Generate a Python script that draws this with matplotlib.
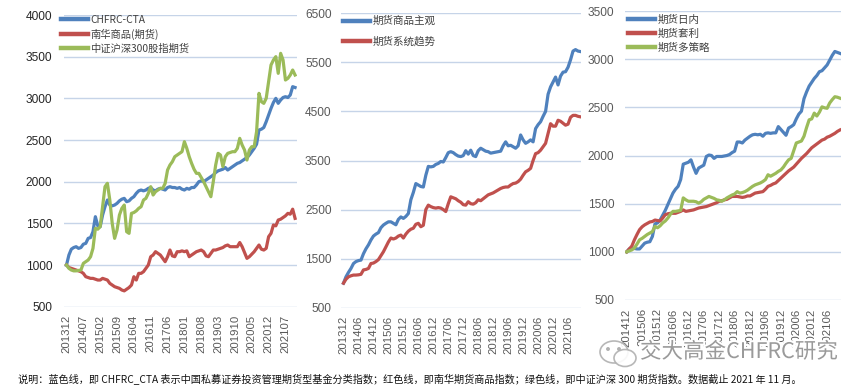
import matplotlib
matplotlib.use("Agg")
import matplotlib.pyplot as plt
import matplotlib.patheffects as pe
from matplotlib.patches import Ellipse, Polygon
import numpy as np

plt.rcParams['font.family'] = ['Liberation Sans', 'Noto Sans CJK SC', 'DejaVu Sans']

# ---------------- data ----------------
# Panel 1: monthly, 201312 .. 202111
p1_ticklabels = ["201312", "201407", "201502", "201509", "201604", "201611", "201706",
                 "201801", "201808", "201903", "201910", "202005", "202012", "202107"]
cta = [1000, 1120, 1190, 1210, 1220, 1200, 1210, 1250, 1260, 1320, 1330, 1400, 1580, 1470, 1460, 1600,
       1700, 1780, 1720, 1710, 1720, 1740, 1770, 1790, 1800, 1760, 1770, 1800, 1820, 1860, 1890, 1900,
       1890, 1900, 1920, 1930, 1900, 1890, 1910, 1920, 1910, 1900, 1930, 1940, 1930, 1930, 1920, 1930,
       1910, 1900, 1920, 1910, 1930, 1930, 1960, 2000, 2010, 2000, 2020, 2040, 2060, 2080, 2110, 2130,
       2140, 2150, 2170, 2140, 2160, 2180, 2200, 2220, 2230, 2250, 2270, 2290, 2320, 2360, 2400, 2450,
       2620, 2630, 2650, 2720, 2800, 2880, 2950, 3000, 2940, 2980, 3010, 3020, 3010, 3040, 3140, 3130]
nanhua = [1000, 970, 960, 950, 940, 930, 920, 900, 860, 850, 840, 840, 830, 820, 820, 840,
          830, 820, 780, 760, 740, 730, 720, 700, 690, 710, 730, 760, 860, 820, 900, 900,
          920, 960, 1000, 1100, 1120, 1160, 1140, 1120, 1080, 1040, 1100, 1180, 1110, 1100, 1160, 1160,
          1170, 1160, 1170, 1100, 1120, 1140, 1160, 1170, 1180, 1160, 1110, 1100, 1140, 1180, 1180, 1190,
          1200, 1210, 1230, 1240, 1220, 1220, 1220, 1220, 1270, 1220, 1150, 1080, 1100, 1130, 1160, 1200,
          1240, 1190, 1180, 1200, 1340, 1380, 1480, 1470, 1540, 1550, 1570, 1590, 1620, 1610, 1670, 1560]
hs300 = [1000, 960, 940, 930, 930, 935, 940, 1020, 1040, 1060, 1100, 1200, 1440, 1430, 1460, 1700,
         1940, 1980, 1780, 1500, 1320, 1420, 1600, 1680, 1720, 1400, 1380, 1620, 1630, 1650, 1680, 1700,
         1780, 1800, 1860, 1940, 1840, 1880, 1900, 1920, 1920, 1980, 2140, 2200, 2240, 2300, 2320, 2340,
         2360, 2480, 2400, 2300, 2220, 2150, 2100, 2100, 2050, 2000, 1940, 1880, 1820, 2000, 2200, 2340,
         2320, 2180, 2300, 2340, 2350, 2360, 2360, 2400, 2520, 2440, 2380, 2260, 2380, 2420, 2420, 2600,
         3060, 2960, 2940, 3000, 3200, 3400, 3460, 3500, 3300, 3540, 3460, 3220, 3240, 3280, 3340, 3280]
p1_names = ["CHFRC-CTA", "南华商品(期货)", "中证沪深300股指期货"]

# Panel 2: monthly, 201312 .. 202111
p2_ticklabels = ["201312", "201406", "201412", "201506", "201512", "201606", "201612", "201706",
                 "201712", "201806", "201812", "201906", "201912", "202006", "202012", "202106"]
subj = [1000, 1130, 1220, 1300, 1400, 1440, 1460, 1470, 1600, 1700, 1780, 1880, 1960, 2000, 2030, 2130,
        2185, 2220, 2250, 2250, 2220, 2190, 2300, 2350, 2320, 2360, 2420, 2700, 2850, 3030, 3000, 2970,
        2960, 3200, 3380, 3370, 3380, 3420, 3440, 3480, 3470, 3560, 3660, 3680, 3660, 3620, 3590, 3580,
        3600, 3700, 3630, 3710, 3600, 3580, 3700, 3750, 3720, 3690, 3680, 3650, 3660, 3670, 3680, 3690,
        3800, 3880, 3800, 3810, 3780, 3750, 3800, 4020, 3920, 3850, 3880, 3920, 3880, 4150, 4230, 4290,
        4400, 4500, 4850, 5000, 5100, 5200, 5040, 5220, 5300, 5310, 5400, 5550, 5730, 5760, 5730, 5720]
systr = [1000, 1080, 1130, 1150, 1165, 1165, 1170, 1180, 1270, 1280, 1300, 1400, 1410, 1440, 1480, 1560,
         1640, 1740, 1840, 1920, 1900, 1920, 1960, 1980, 1920, 2000, 2060, 2100, 2120, 2200, 2220, 2150,
         2180, 2500, 2590, 2560, 2540, 2530, 2540, 2530, 2500, 2460, 2620, 2760, 2740, 2720, 2680, 2650,
         2600, 2590, 2660, 2620, 2610, 2640, 2700, 2680, 2720, 2760, 2800, 2820, 2840, 2870, 2900, 2930,
         2950, 2960, 2960, 3000, 3030, 3040, 3070, 3120, 3200, 3270, 3300, 3340, 3500, 3640, 3660, 3710,
         3780, 3850, 4050, 4250, 4200, 4200, 4320, 4300, 4260, 4220, 4240, 4380, 4420, 4420, 4400, 4390]
p2_names = ["期货商品主观", "期货系统趋势"]

# Panel 3: monthly, 201412 .. 202111
p3_ticklabels = ["201412", "201506", "201512", "201606", "201612", "201706", "201712",
                 "201806", "201812", "201906", "201912", "202006", "202012", "202106"]
intraday = [1000, 1030, 1040, 1035, 1030, 1030, 1060, 1090, 1100, 1105, 1160, 1290, 1300, 1330, 1380, 1430,
            1490, 1550, 1610, 1650, 1680, 1750, 1910, 1920, 1930, 1955, 1880, 1815, 1870, 1885, 1900, 1990,
            2005, 2000, 1970, 1990, 1990, 1990, 1995, 2000, 2010, 2030, 2045, 2140, 2140, 2130, 2160, 2180,
            2200, 2215, 2220, 2215, 2220, 2200, 2230, 2235, 2230, 2235, 2235, 2300, 2270, 2240, 2210, 2285,
            2300, 2320, 2380, 2430, 2460, 2590, 2660, 2720, 2760, 2800, 2830, 2870, 2880, 2910, 2940, 2990,
            3040, 3080, 3070, 3060]
arbitrage = [1000, 1030, 1060, 1125, 1180, 1230, 1260, 1280, 1295, 1310, 1315, 1330, 1325, 1320, 1350, 1385,
             1395, 1400, 1400, 1400, 1410, 1420, 1435, 1420, 1425, 1430, 1435, 1445, 1455, 1460, 1465, 1470,
             1480, 1490, 1500, 1510, 1525, 1530, 1540, 1545, 1560, 1575, 1575, 1575, 1570, 1565, 1570, 1580,
             1580, 1595, 1610, 1615, 1620, 1625, 1650, 1680, 1690, 1705, 1715, 1740, 1765, 1790, 1815, 1840,
             1860, 1880, 1910, 1940, 1970, 1995, 2020, 2050, 2080, 2100, 2120, 2140, 2160, 2170, 2190, 2200,
             2215, 2230, 2250, 2265]
multi = [1000, 1010, 1020, 1040, 1080, 1125, 1140, 1160, 1180, 1195, 1210, 1265, 1250, 1270, 1300, 1320,
         1350, 1390, 1420, 1420, 1425, 1430, 1560, 1540, 1525, 1525, 1525, 1520, 1505, 1520, 1545, 1560,
         1575, 1565, 1555, 1540, 1535, 1525, 1540, 1560, 1575, 1590, 1600, 1625, 1610, 1615, 1625, 1640,
         1660, 1680, 1695, 1705, 1715, 1730, 1750, 1800, 1785, 1800, 1815, 1835, 1850, 1880, 1920, 1955,
         1970, 2050, 2130, 2140, 2150, 2200, 2290, 2370, 2380, 2440, 2410, 2450, 2505, 2495, 2490, 2545,
         2580, 2610, 2605, 2595]
p3_names = ["期货日内", "期货套利", "期货多策略"]

footnote = ("说明：蓝色线，即 CHFRC_CTA 表示中国私募证券投资管理期货型基金分类指数；红色线，"
            "即南华期货商品指数；绿色线，即中证沪深 300 期货指数。数据截止 2021 年 11 月。")
watermark = "交大高金CHFRC研究"

# ---------------- style ----------------
BLUE, RED, GREEN = "#4F81BD", "#C0504D", "#9BBB59"
GRID = "#C6D4E8"
W, H = 860, 390
LW = 2.3

fig = plt.figure(figsize=(W / 100, H / 100), dpi=100)
fig.patch.set_facecolor("white")


def make_ax(left, right, top, bottom):
    return fig.add_axes([left / W, 1 - bottom / H, (right - left) / W, (bottom - top) / H])


def style(ax, ylim, yticks, xticks, xlabels, ylabcolor, ypad):
    ax.set_ylim(*ylim)
    ax.set_yticks(yticks)
    ax.set_yticklabels([str(v) for v in yticks])
    ax.set_xticks(xticks)
    ax.set_xticklabels(xlabels, rotation=90, va="top", ha="center")
    for s in ax.spines.values():
        s.set_visible(False)
    ax.grid(axis="y", color=GRID, linewidth=1.0)
    ax.set_axisbelow(True)
    ax.tick_params(axis="both", length=0)
    ax.tick_params(axis="y", pad=ypad, labelsize=8.6, labelcolor=ylabcolor)
    ax.tick_params(axis="x", pad=6, labelsize=8.2, labelcolor="#595959")


# Panel 1
ax1 = make_ax(64, 297, 15, 306.7)
x1 = np.arange(len(cta))
ax1.plot(x1, cta, color=BLUE, lw=LW, label=p1_names[0], solid_joinstyle="round")
ax1.plot(x1, nanhua, color=RED, lw=LW, label=p1_names[1], solid_joinstyle="round")
ax1.plot(x1, hs300, color=GREEN, lw=LW, label=p1_names[2], solid_joinstyle="round")
ax1.set_xlim(-1.04, 95.8)
style(ax1, (500, 4000), list(range(500, 4001, 500)), list(range(0, 92, 7)), p1_ticklabels, "#262626", 8.6)

# Panel 2
ax2 = make_ax(341, 581, 13.3, 307.7)
x2 = np.arange(len(subj))
ax2.plot(x2, subj, color=BLUE, lw=LW, label=p2_names[0], solid_joinstyle="round")
ax2.plot(x2, systr, color=RED, lw=LW, label=p2_names[1], solid_joinstyle="round")
ax2.set_xlim(-1.0, 95.2)
style(ax2, (500, 6500), list(range(500, 6501, 1000)), list(range(0, 91, 6)), p2_ticklabels, "#595959", 6.8)

# Panel 3
ax3 = make_ax(624.5, 841, 11, 300)
x3 = np.arange(len(intraday))
ax3.plot(x3, intraday, color=BLUE, lw=LW, label=p3_names[0], solid_joinstyle="round")
ax3.plot(x3, arbitrage, color=RED, lw=LW, label=p3_names[1], solid_joinstyle="round")
ax3.plot(x3, multi, color=GREEN, lw=LW, label=p3_names[2], solid_joinstyle="round")
ax3.set_xlim(-0.86, 83.4)
style(ax3, (500, 3500), list(range(500, 3501, 500)), list(range(0, 79, 6)), p3_ticklabels, "#595959", 7.3)


def legend(ax, x_px, y_px, spacing, fontsize):
    lg = ax.legend(loc="upper left", bbox_to_anchor=(x_px / W, 1 - y_px / H),
                   bbox_transform=fig.transFigure, frameon=False, handlelength=2.6,
                   handletextpad=0.25, labelspacing=spacing, borderpad=0, borderaxespad=0,
                   prop={"family": ["Noto Sans CJK SC", "DejaVu Sans"], "size": fontsize})
    for line in lg.get_lines():
        line.set_linewidth(3.2)
    for t in lg.get_texts():
        t.set_color("#404040")
    return lg


legend(ax1, 61, 15, 0.35, 7.4)
legend(ax2, 343, 16, 0.95, 7.6)
legend(ax3, 628, 15, 0.35, 7.6)

# footnote
fig.text(18 / W, 1 - 380 / H, footnote, fontsize=7.3, color="#111111", va="center", ha="left",
         family=["Noto Sans CJK SC", "DejaVu Sans"])

# watermark (WeChat-style bubbles + text)
wm_ax = fig.add_axes([0, 0, 1, 1], facecolor="none")
wm_ax.set_xlim(0, W)
wm_ax.set_ylim(H, 0)
wm_ax.axis("off")
wm_ax.add_patch(Ellipse((614, 352), 28, 22, facecolor="white", edgecolor="#b0b0b0", lw=1.2, alpha=0.9))
wm_ax.add_patch(Ellipse((625, 358), 22, 17, facecolor="white", edgecolor="#b0b0b0", lw=1.2, alpha=0.9))
for cx, cy in [(608, 349), (619, 349)]:
    wm_ax.add_patch(Ellipse((cx, cy), 2.5, 2.5, color="#b0b0b0"))
fig.text(640 / W, 1 - 352 / H, watermark, fontsize=15.5, color="#9a9a9a", va="center", ha="left",
         family=["Noto Sans CJK SC", "DejaVu Sans"],
         path_effects=[pe.withStroke(linewidth=3, foreground="white")])

fig.savefig("out.png", dpi=100, facecolor="white")
